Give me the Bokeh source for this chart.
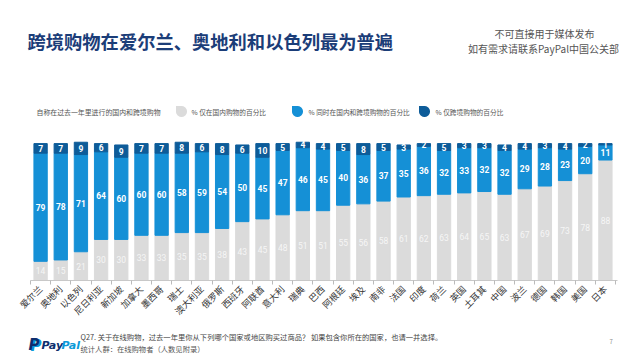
import numpy as np
from bokeh.plotting import figure
from bokeh.layouts import column
from bokeh.models import Range1d, FixedTicker, ColumnDataSource
from bokeh.core.properties import value
from bokeh.embed import file_html
from bokeh.resources import INLINE

countries = ["爱尔兰", "奥地利", "以色列", "尼日利亚", "新加坡", "加拿大", "墨西哥", "瑞士",
             "澳大利亚", "俄罗斯", "西班牙", "阿联酋", "意大利", "瑞典", "巴西", "阿根廷",
             "埃及", "南非", "法国", "印度", "荷兰", "英国", "土耳其", "中国", "波兰",
             "德国", "韩国", "美国", "日本"]
domestic = [14, 15, 21, 30, 30, 33, 33, 35, 35, 38, 43, 45, 48, 51, 51, 55, 56, 58, 61,
            62, 63, 64, 65, 63, 67, 69, 73, 78, 88]
both = [79, 78, 71, 64, 60, 60, 60, 58, 59, 54, 50, 45, 47, 46, 45, 40, 36, 37, 35, 36,
        32, 33, 32, 32, 29, 28, 23, 20, 11]
cross_only = [7, 7, 9, 6, 9, 7, 7, 8, 6, 8, 6, 10, 5, 4, 4, 5, 8, 5, 3, 2, 5, 3, 3, 4,
              4, 3, 4, 2, 1]

title_text = "跨境购物在爱尔兰、奥地利和以色列最为普遍"
note_lines = ["不可直接用于媒体发布", "如有需求请联系PayPal中国公关部"]
legend_intro = "自称在过去一年里进行的国内和跨境购物"
legend_labels = ["% 仅在国内购物的百分比", "% 同时在国内和跨境购物的百分比", "% 仅跨境购物的百分比"]
footer_lines = ["Q27. 关于在线购物，过去一年里你从下列哪个国家或地区购买过商品？ 如果包含你所在的国家，也请一并选择。",
                "统计人群：在线购物者（人数见附录）"]
page_number = "7"

C_DOM = "#dbdbdb"
C_BOTH = "#1590d6"
C_CROSS = "#0d5c99"
CJK = "Noto Sans CJK SC"
W = 640
HEAD_H, CHART_H, FOOT_H = 139, 186, 35


def blank(h, y_top):
    f = figure(width=W, height=h, output_backend="svg", toolbar_location=None, title=None,
               x_range=Range1d(0, W), y_range=Range1d(y_top + h, y_top),
               x_axis_location=None, y_axis_location=None, min_border=0)
    f.outline_line_color = None
    f.grid.visible = False
    return f


def txt(f, x, y, s, size, color, font=CJK, style="normal", align="left"):
    f.text(x=[x], y=[y], text=[s], text_font=value(font), text_font_size=size,
           text_color=color, text_font_style=style, text_align=align, text_baseline="middle")


# ---------------- header ----------------
head = blank(HEAD_H, 0)
txt(head, 27, 40, title_text, "18.3px", "#1b3d78", style="bold")
txt(head, 544, 33, note_lines[0], "10px", "#555555", align="center")
txt(head, 543, 48, note_lines[1], "10px", "#555555", align="center")

txt(head, 36, 111, legend_intro, "6.9px", "#555555")
icon_x = [181, 297, 424]
text_x = [191, 308, 435]
for cx, tx, col, t in zip(icon_x, text_x, [C_DOM, C_BOTH, C_CROSS], legend_labels):
    r = 5.5
    cy = 111
    ang = np.linspace(np.pi, 2.5 * np.pi, 40)
    pxs = list(cx + r * np.cos(ang)) + [cx - r]
    pys = list(cy - r * np.sin(ang)) + [cy - r]
    head.patch(pxs, pys, fill_color=col, line_color=None)
    txt(head, tx, 111, t, "6.7px", "#555555")

# ---------------- chart ----------------
n = len(countries)
xs = list(range(n))
dom = np.array(domestic, dtype=float)
bo = np.array(both, dtype=float)
cr = np.array(cross_only, dtype=float)

src = ColumnDataSource(dict(
    x=xs,
    dom_top=dom, both_top=dom + bo, cross_top=dom + bo + cr,
    dom_mid=dom / 2, both_mid=dom + bo / 2, cross_mid=dom + bo + cr / 2,
    dom_lab=[str(v) for v in domestic], both_lab=[str(v) for v in both],
    cross_lab=[str(v) for v in cross_only],
))

# frame spans the full width so that it lines up with header/footer frames;
# the category band occupies pixels 30..615
LEFT_PX, RIGHT_PX = 30, 615
unit = (RIGHT_PX - LEFT_PX) / n
x0 = -0.5 - LEFT_PX / unit
x1 = n - 0.5 + (W - RIGHT_PX) / unit

p = figure(width=W, height=CHART_H, output_backend="svg", toolbar_location=None, title=None,
           x_range=Range1d(x0, x1), y_range=Range1d(0, 103),
           y_axis_location=None,
           min_border_left=0, min_border_right=0, min_border_top=0, min_border_bottom=42)
p.outline_line_color = None
p.grid.visible = False

p.vbar(x="x", bottom=0, top="dom_top", width=0.66, color=C_DOM, source=src)
p.vbar(x="x", bottom="dom_top", top="both_top", width=0.66, color=C_BOTH, source=src)
p.vbar(x="x", bottom="both_top", top="cross_top", width=0.66, color=C_CROSS, source=src)

p.text(x="x", y="dom_mid", text="dom_lab", source=src, text_color="#f6f6f6",
       text_font=value("Roboto"), text_font_size="8.5px", text_align="center", text_baseline="middle")
p.text(x="x", y="both_mid", text="both_lab", source=src, text_color="white",
       text_font=value("Roboto"), text_font_style="bold", text_font_size="8.5px",
       text_align="center", text_baseline="middle")
p.text(x="x", y="cross_mid", text="cross_lab", source=src, text_color="white",
       text_font=value("Roboto"), text_font_style="bold", text_font_size="8.5px",
       text_align="center", text_baseline="middle")

ax = p.xaxis[0]
ax.bounds = (-0.5, n - 0.5 + 0.1)
ax.ticker = FixedTicker(ticks=xs, minor_ticks=[i - 0.5 for i in range(n + 1)])
ax.major_label_overrides = {i: c for i, c in enumerate(countries)}
ax.major_tick_out = 0
ax.major_tick_in = 0
ax.minor_tick_out = 4
ax.minor_tick_in = 0
ax.minor_tick_line_color = "#bbbbbb"
ax.axis_line_color = "#c8c8c8"
ax.major_label_orientation = np.pi / 4
ax.major_label_text_font = CJK
ax.major_label_text_font_size = "9px"
ax.major_label_text_color = "#333333"
ax.major_label_standoff = 3

# ---------------- footer ----------------
foot = blank(FOOT_H, HEAD_H + CHART_H)
txt(foot, 30, 345, "P", "15px", "#0b9ad9", font="DejaVu Sans", style="bold italic")
txt(foot, 28, 344, "P", "15px", "#0d2f6e", font="DejaVu Sans", style="bold italic")
txt(foot, 41, 345, "Pay", "11px", "#0d2f6e", font="DejaVu Sans", style="bold italic")
txt(foot, 61, 345, "Pal", "11px", "#0b9ad9", font="DejaVu Sans", style="bold italic")
txt(foot, 80, 336, footer_lines[0], "7.3px", "#444444")
txt(foot, 80, 348, footer_lines[1], "7.3px", "#555555")
txt(foot, 609, 341, page_number, "6px", "#888888")

layout = column(head, p, foot, spacing=0)
open("out.html", "w").write(file_html(layout, INLINE))
